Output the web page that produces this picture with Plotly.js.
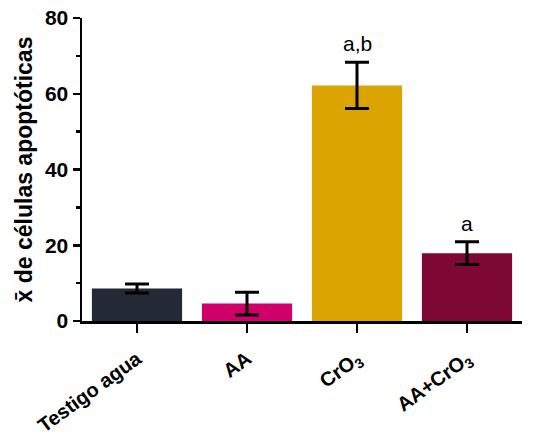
<!DOCTYPE html>
<html><head><meta charset="utf-8">
<script src="https://cdn.plot.ly/plotly-3.0.1.min.js"></script>
<style>body{margin:0}#c{width:542px;height:439px}</style>
</head><body><div id="c"></div>
<script>
var categories = ['Testigo agua', 'AA', 'CrO<sub>3</sub>', 'AA+CrO<sub>3</sub>'];
var means = [8.6, 4.6, 62.2, 17.9];
var errors = [1.2, 3.0, 6.1, 3.0];
var colors = ['#232a35', '#d0006a', '#dca400', '#7d0833'];
var letters = ['', '', 'a,b', 'a'];

var trace = {
  type: 'bar', x: categories, y: means,
  marker: {color: colors},
  width: 0.82,
  error_y: {type: 'data', array: errors, visible: true, color: '#000', thickness: 3, width: 12},
  hoverinfo: 'none'
};
var annotations = [];
for (var i = 0; i < categories.length; i++) {
  if (letters[i]) annotations.push({
    x: categories[i], y: means[i] + errors[i], yshift: 5, text: letters[i],
    showarrow: false, yanchor: 'bottom',
    font: {family: 'Liberation Sans, Arial', size: 21, color: '#000'}
  });
}
var layout = {
  width: 542, height: 439,
  margin: {l: 82, r: 20, t: 18, b: 118},
  paper_bgcolor: '#fff', plot_bgcolor: '#fff',
  showlegend: false,
  xaxis: {
    type: 'category', range: [-0.5, 3.5],
    showline: true, linecolor: '#000', linewidth: 2.5,
    ticks: 'outside', ticklen: 9, tickwidth: 2.5, tickcolor: '#000',
    tickangle: -36, ticklabelstandoff: 7, showgrid: false, zeroline: false,
    tickfont: {family: 'Liberation Sans, Arial', size: 20, color: '#000', weight: 'bold'}
  },
  yaxis: {
    range: [0, 80], dtick: 20, tick0: 0,
    showline: true, linecolor: '#000', linewidth: 2.5,
    ticks: 'outside', ticklen: 7, tickwidth: 2.5, tickcolor: '#000',
    minor: {dtick: 10, ticks: 'outside', ticklen: 4, tickwidth: 2.5, tickcolor: '#000', showgrid: false},
    showgrid: false, zeroline: false,
    tickfont: {family: 'Liberation Sans, Arial', size: 21, color: '#000', weight: 'bold'},
    title: {text: 'x\u0304 de células apoptóticas', standoff: 6,
      font: {family: 'Liberation Sans, Arial', size: 23, color: '#000', weight: 'bold'}}
  },
  annotations: annotations
};
Plotly.newPlot('c', [trace], layout, {displayModeBar: false, staticPlot: true});
</script></body></html>
